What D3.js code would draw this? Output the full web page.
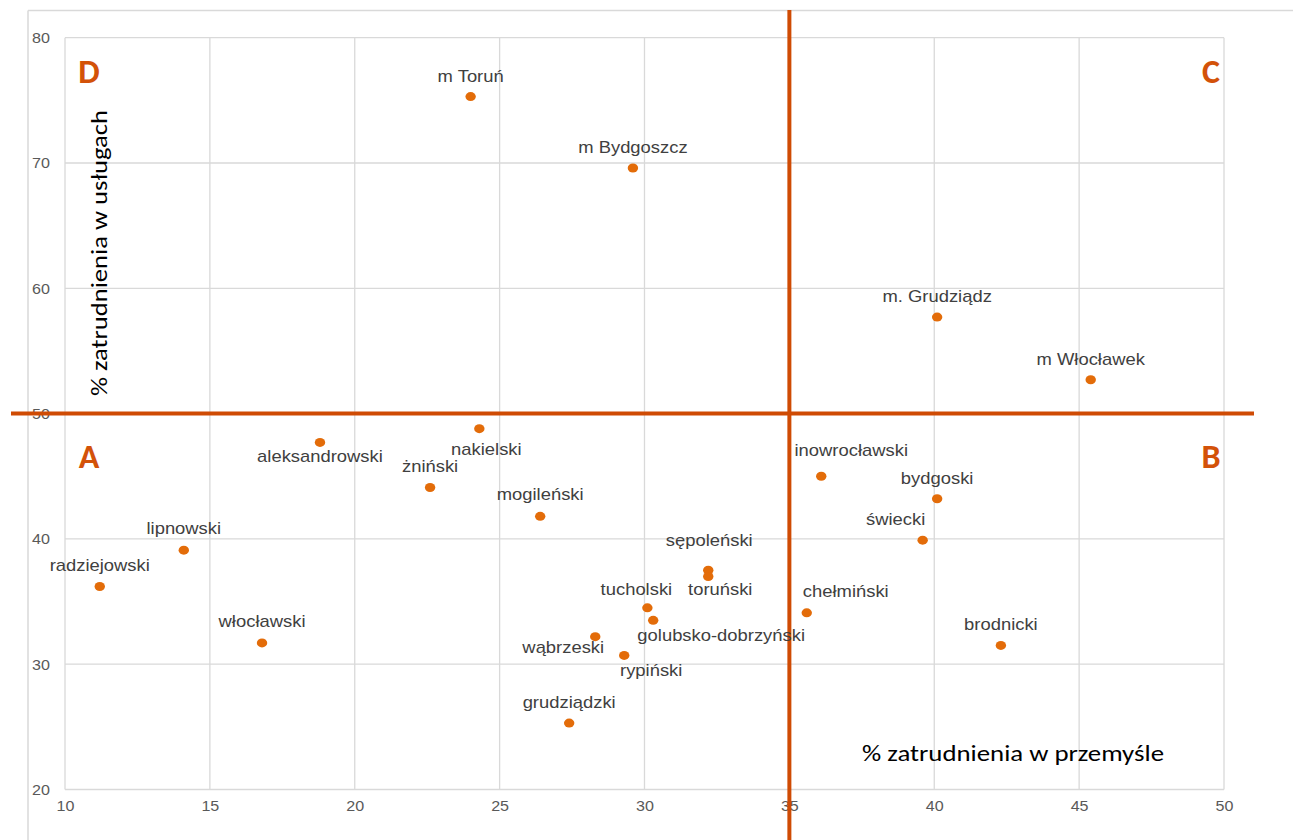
<!DOCTYPE html>
<html>
<head>
<meta charset="utf-8">
<script src="https://cdn.jsdelivr.net/npm/d3@7"></script>
<style>
  html, body { margin: 0; padding: 0; background: #ffffff; }
  svg { display: block; }
</style>
</head>
<body>
<div id="chart"></div>
<script>
// ---- data ----
const names = ["m Toruń","m Bydgoszcz","m. Grudziądz","m Włocławek","aleksandrowski","nakielski",
  "inowrocławski","bydgoski","żniński","mogileński","świecki","lipnowski","sępoleński","toruński",
  "radziejowski","tucholski","chełmiński","golubsko-dobrzyński","wąbrzeski","włocławski",
  "brodnicki","rypiński","grudziądzki"];
const industry = [24.0, 29.6, 40.1, 45.4, 18.8, 24.3, 36.1, 40.1, 22.6, 26.4, 39.6, 14.1, 32.2, 32.2,
  11.2, 30.1, 35.6, 30.3, 28.3, 16.8, 42.3, 29.3, 27.4];
const services = [75.3, 69.6, 57.7, 52.7, 47.7, 48.8, 45.0, 43.2, 44.1, 41.8, 39.9, 39.1, 37.5, 37.0,
  36.2, 34.5, 34.1, 33.5, 32.2, 31.7, 31.5, 30.7, 25.3];
const xTicks = [10, 15, 20, 25, 30, 35, 40, 45, 50];
const yTicks = [20, 30, 40, 50, 60, 70, 80];
const xThreshold = 35;
const yThreshold = 50;
const quadrants = ["D", "C", "A", "B"];
const xTitle = "% zatrudnienia w przemyśle";
const yTitle = "% zatrudnienia w usługach";

// ---- layout (label nudges relative to each point, px) ----
const labelDx = [0, 0, 0, 0, 0, 7, 30, 0, 0, 0, -27, 0, 1, 12, 0, -11, 39, 68, -32, 0, 0, 27, 0];
const labelDy = [-15, -15, -15, -15, 20, 26, -20, -15, -16, -16, -15, -16, -24, 19, -16, -13, -16, 21, 16, -16, -15, 21, -15];

const W = 1293, H = 840;
const plot = { left: 65, right: 1224, top: 37.7, bottom: 789.5 };
const SX = 1.15; // horizontal text stretch seen in the reference

const svg = d3.select("#chart").append("svg").attr("width", W).attr("height", H);

const x = d3.scaleLinear().domain([10, 50]).range([plot.left, plot.right]);
const y = d3.scaleLinear().domain([20, 80]).range([plot.bottom, plot.top]);

// outer chart border (partially visible)
svg.append("line").attr("x1", 28).attr("x2", W).attr("y1", 10.5).attr("y2", 10.5)
  .attr("stroke", "#d9d9d9").attr("stroke-width", 1.5);
svg.append("line").attr("x1", 28).attr("x2", 28).attr("y1", 10.5).attr("y2", H)
  .attr("stroke", "#d9d9d9").attr("stroke-width", 1.5);

// gridlines
const grid = svg.append("g");
grid.selectAll("line.v").data(xTicks).join("line").attr("class", "v")
  .attr("x1", d => x(d)).attr("x2", d => x(d)).attr("y1", plot.top).attr("y2", plot.bottom)
  .attr("stroke", "#d9d9d9").attr("stroke-width", 1.3);
grid.selectAll("line.h").data(yTicks).join("line").attr("class", "h")
  .attr("x1", plot.left).attr("x2", plot.right).attr("y1", d => y(d)).attr("y2", d => y(d))
  .attr("stroke", "#d9d9d9").attr("stroke-width", 1.3);

// axes (tick labels only)
const xAxis = svg.append("g").attr("transform", `translate(0,${plot.bottom})`)
  .call(d3.axisBottom(x).tickValues(xTicks).tickSize(0).tickPadding(0));
xAxis.select(".domain").remove();
xAxis.selectAll("text")
  .attr("y", 0).attr("dy", 0)
  .attr("transform", function() { return `translate(0,21) scale(${SX},1)`; })
  .attr("fill", "#595959").attr("font-family", "'Liberation Sans', Arial, sans-serif").attr("font-size", 14);

const yAxis = svg.append("g").attr("transform", `translate(${plot.left},0)`)
  .call(d3.axisLeft(y).tickValues(yTicks).tickSize(0).tickPadding(0));
yAxis.select(".domain").remove();
yAxis.selectAll("text")
  .attr("x", 0).attr("dy", "0.35em")
  .attr("transform", `translate(-15,0) scale(${SX},1)`)
  .attr("text-anchor", "end")
  .attr("fill", "#595959").attr("font-family", "'Liberation Sans', Arial, sans-serif").attr("font-size", 14);

// threshold lines
svg.append("line").attr("x1", 11).attr("x2", 1254).attr("y1", y(yThreshold)).attr("y2", y(yThreshold))
  .attr("stroke", "#cf4b04").attr("stroke-width", 4);
svg.append("line").attr("x1", x(xThreshold)).attr("x2", x(xThreshold)).attr("y1", 10).attr("y2", H)
  .attr("stroke", "#cf4b04").attr("stroke-width", 4);

// quadrant letters
const qPos = [[89, 82.5], [1211, 82.5], [89, 467.5], [1211, 467.5]];
svg.selectAll("text.q").data(quadrants).join("text").attr("class", "q")
  .attr("transform", (d, i) => `translate(${qPos[i][0]},${qPos[i][1]})`)
  .attr("text-anchor", "middle")
  .attr("font-family", "Carlito, Calibri, Lato, 'Open Sans', sans-serif")
  .attr("font-weight", "bold").attr("font-size", 34)
  .attr("fill", "#d35209").text(d => d);

// axis titles
svg.append("text")
  .attr("x", 1013).attr("y", 761)
  .attr("text-anchor", "middle")
  .attr("font-family", "Carlito, Calibri, Lato, 'Open Sans', sans-serif")
  .attr("font-size", 23).attr("fill", "#000000")
  .attr("textLength", 302).attr("lengthAdjust", "spacingAndGlyphs")
  .text(xTitle);
svg.append("text")
  .attr("transform", "translate(107,253) rotate(-90)")
  .attr("text-anchor", "middle")
  .attr("font-family", "Carlito, Calibri, Lato, 'Open Sans', sans-serif")
  .attr("font-size", 23).attr("fill", "#000000")
  .attr("textLength", 286).attr("lengthAdjust", "spacingAndGlyphs")
  .text(yTitle);

// points
const idx = d3.range(names.length);
svg.append("g").selectAll("ellipse").data(idx).join("ellipse")
  .attr("cx", i => x(industry[i])).attr("cy", i => y(services[i]))
  .attr("rx", 5.2).attr("ry", 4.5)
  .attr("fill", "#e36c09");

// labels
svg.append("g").selectAll("text").data(idx).join("text")
  .attr("transform", i => `translate(${x(industry[i]) + labelDx[i]},${y(services[i]) + labelDy[i]}) scale(${SX},1)`)
  .attr("text-anchor", "middle")
  .attr("font-family", "'Liberation Sans', Arial, sans-serif")
  .attr("font-size", 16).attr("fill", "#404040")
  .text(i => names[i]);
</script>
</body>
</html>
